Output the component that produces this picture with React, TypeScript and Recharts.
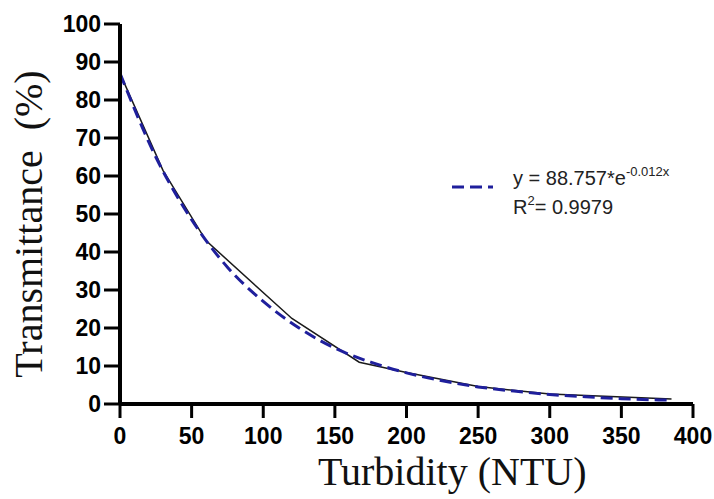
import { LineChart, Line, XAxis, YAxis, Label } from "recharts";

const measuredX = [0, 30, 60, 120, 167, 200, 250, 300, 385];
const measuredY = [87, 61.5, 43, 22.5, 11, 8.3, 4.6, 2.6, 1.3];

// exponential fit curve
const fitX = [0, 25, 50, 75, 100, 125, 150, 175, 200, 225, 250, 275, 300, 325, 350, 385];
const fitY = [87, 65, 48.5, 36, 27, 20, 14.7, 11, 8.2, 6.1, 4.5, 3.4, 2.5, 1.9, 1.4, 1.0];

const xTicks = [0, 50, 100, 150, 200, 250, 300, 350, 400];
const yTicks = [0, 10, 20, 30, 40, 50, 60, 70, 80, 90, 100];

const measured = measuredX.map((x, i) => ({ x, y: measuredY[i] }));
const fit = fitX.map((x, i) => ({ x, y: fitY[i] }));

const BLUE = "#1f1f9c";
const SANS = '"Liberation Sans", Arial, sans-serif';
const SERIF = '"Liberation Serif", "Times New Roman", serif';

const tickStyle = { fill: "#000", fontSize: 23, fontWeight: 700, fontFamily: SANS };

function YTitle(props: any) {
  const vb = props.viewBox || { x: 0, y: 24, width: 120, height: 380 };
  const cx = vb.x + 42;
  const cy = vb.y + vb.height / 2 + 10;
  return (
    <text
      x={cx}
      y={cy}
      transform={`rotate(-90, ${cx}, ${cy})`}
      textAnchor="middle"
      fontFamily={SERIF}
      fontSize={40}
      fill="#111"
      style={{ whiteSpace: "pre" }}
    >
      Transmittance  (%)
    </text>
  );
}

function XTitle(props: any) {
  const vb = props.viewBox || { x: 120, y: 404, width: 573, height: 95 };
  return (
    <text x={vb.x + 198} y={vb.y + 81} textAnchor="start" fontFamily={SERIF} fontSize={40} fill="#111">
      Turbidity (NTU)
    </text>
  );
}

export default function App() {
  return (
    <div style={{ position: "absolute", left: 0, top: 0, width: 714, height: 499, background: "#fff" }}>
      <LineChart width={714} height={499} margin={{ top: 24, right: 21, bottom: 0, left: 0 }}>
        <XAxis
          dataKey="x"
          type="number"
          domain={[0, 400]}
          ticks={xTicks}
          interval={0}
          height={95}
          tickSize={14}
          tickMargin={10}
          axisLine={{ stroke: "#000", strokeWidth: 4 }}
          tickLine={{ stroke: "#000", strokeWidth: 3 }}
          tick={tickStyle}
        >
          <Label content={XTitle} />
        </XAxis>
        <YAxis
          type="number"
          domain={[0, 100]}
          ticks={yTicks}
          interval={0}
          width={120}
          tickSize={16}
          tickMargin={3}
          axisLine={{ stroke: "#000", strokeWidth: 4 }}
          tickLine={{ stroke: "#000", strokeWidth: 3 }}
          tick={tickStyle}
        >
          <Label content={YTitle} />
        </YAxis>
        <Line
          data={measured}
          dataKey="y"
          type="linear"
          stroke="#1a1a1a"
          strokeWidth={1.5}
          dot={false}
          isAnimationActive={false}
        />
        <Line
          data={fit}
          dataKey="y"
          type="monotone"
          stroke={BLUE}
          strokeWidth={3}
          strokeDasharray="12 6"
          dot={false}
          isAnimationActive={false}
        />
      </LineChart>
      <svg width={714} height={499} style={{ position: "absolute", left: 0, top: 0, pointerEvents: "none" }}>
        <line x1={452} y1={187} x2={493} y2={187} stroke={BLUE} strokeWidth={3} strokeDasharray="12 6" />
        <text x={513} y={185} fontFamily={SANS} fontSize={20} fill="#222">
          y = 88.757*e
          <tspan fontSize={13} dy={-9}>-0.012x</tspan>
        </text>
        <text x={513} y={214} fontFamily={SANS} fontSize={20} fill="#222">
          R<tspan fontSize={13} dy={-9}>2</tspan>
          <tspan dy={9}>= 0.9979</tspan>
        </text>
      </svg>
    </div>
  );
}
